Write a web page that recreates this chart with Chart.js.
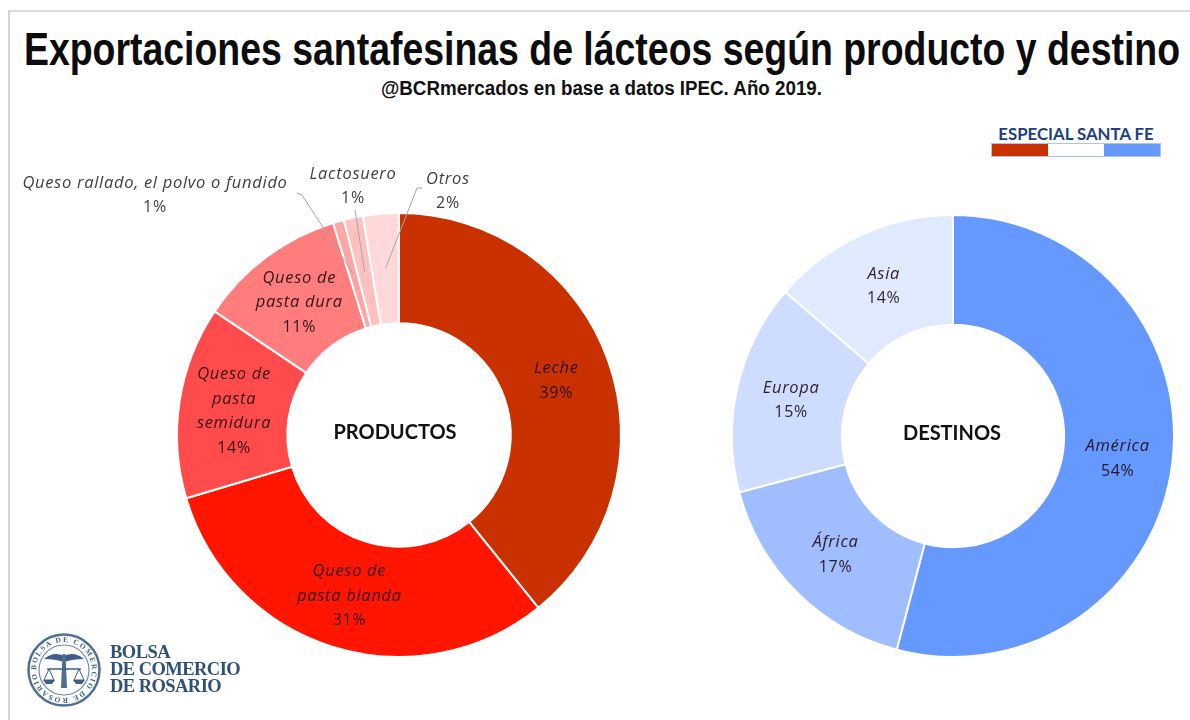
<!DOCTYPE html>
<html lang="es">

<head>
    <meta charset="UTF-8">
    <title>Exportaciones santafesinas de lácteos</title>
    <script src="https://cdn.jsdelivr.net/npm/chart.js@4.5.0/dist/chart.umd.min.js"></script>
    <style>
        html, body { margin: 0; padding: 0; background: #fff; }
        body { position: relative; width: 1190px; height: 720px; overflow: hidden; }
        .frame-top { position: absolute; left: 8px; top: 10px; width: 1182px; height: 2px; background: #dcdcdc; }
        .frame-left { position: absolute; left: 8px; top: 10px; width: 2px; height: 710px; background: #d4d4d4; }
        canvas { position: absolute; }
        #chartProductos { left: 0; top: 150px; }
        #chartDestinos { left: 716px; top: 151px; }
        h1 {
            position: absolute; left: 24px; top: 22px; margin: 0; color: #0c0c0c; transform-origin: left center;
            font: bold 46px "Liberation Sans", sans-serif; white-space: nowrap;
        }
        .subtitulo {
            position: absolute; left: 381px; top: 77px; color: #111; transform-origin: left center;
            font: bold 20px "Liberation Sans", sans-serif; white-space: nowrap;
        }
        .especial {
            position: absolute; left: 992px; top: 123px; width: 168px; text-align: center; color: #203f7c;
            font: bold 16.8px Lato, sans-serif; white-space: nowrap;
        }
        .franja { position: absolute; left: 991px; top: 143px; width: 168px; height: 12px; display: flex; border: 1px solid #b9c3d6; }
        .franja span { flex: 1; }
        .logo { position: absolute; left: 26px; top: 632px; }
        .logo-texto {
            position: absolute; left: 110px; top: 644px; color: #2f5078; letter-spacing: -0.55px;
            font: bold 18.5px/17px "Liberation Serif", serif; white-space: nowrap;
        }
    </style>
</head>

<body>
    <div class="frame-top"></div>
    <div class="frame-left"></div>

    <h1 id="titulo">Exportaciones santafesinas de lácteos según producto y destino</h1>
    <div class="subtitulo" id="subtitulo">@BCRmercados en base a datos IPEC. Año 2019.</div>

    <div class="especial">ESPECIAL SANTA FE</div>
    <div class="franja">
        <span style="background:#c93200"></span><span style="background:#fff"></span><span style="background:#6699ff"></span>
    </div>

    <canvas id="chartProductos" width="798" height="570"></canvas>
    <canvas id="chartDestinos" width="474" height="570"></canvas>

    <!-- logo -->
    <svg class="logo" width="76" height="76" viewBox="0 0 76 76">
        <defs><path id="anillo" d="M38 38 m-28 0 a28 28 0 1 1 56 0 a28 28 0 1 1 -56 0"></path></defs>
        <circle cx="38" cy="38" r="35.5" fill="#fff" stroke="#4f6f96" stroke-width="2.5"></circle>
        <circle cx="38" cy="38" r="25" fill="#fff" stroke="#6f8aac" stroke-width="1.2"></circle>
        <text font-size="7.4" font-family="Liberation Serif" font-weight="bold" fill="#3d5f88" textLength="172">
            <textPath href="#anillo">BOLSA DE COMERCIO DE ROSARIO</textPath>
        </text>
        <path d="M18 27 Q28 19 38 24 Q48 19 58 27 Q47 27 38 30 Q29 27 18 27Z" fill="#3d5f88"></path>
        <path d="M36.5 22 h3 L41 56 h-6Z" fill="#4f6f96"></path>
        <path d="M21 37 H55" stroke="#3d5f88" stroke-width="1.4"></path>
        <path d="M23 37 L18 48 H28Z M53 37 L48 48 H58Z" fill="none" stroke="#3d5f88" stroke-width="1"></path>
        <path d="M17 48 H29 L26 52 H20Z M47 48 H59 L56 52 H50Z" fill="#3d5f88"></path>
    </svg>
    <div class="logo-texto">BOLSA<br>DE COMERCIO<br>DE ROSARIO</div>

    <script>
        const productos = [['Leche'], ['Queso de', 'pasta blanda'], ['Queso de', 'pasta', 'semidura'], ['Queso de', 'pasta dura'],
            ['Queso rallado, el polvo o fundido'], ['Lactosuero'], ['Otros']];
        const productosValores = [39.2, 31.2, 14.0, 10.8, 0.8, 1.4, 2.6];
        const productosEtiquetas = ['39%', '31%', '14%', '11%', '1%', '1%', '2%'];
        const productosColores = ['#c93200', '#ff1500', '#ff4b4b', '#ff7d7d', '#ffa5a5', '#ffc0c0', '#ffd9d9'];

        const destinos = [['América'], ['África'], ['Europa'], ['Asia']];
        const destinosValores = [54.1, 16.8, 15.4, 13.7];
        const destinosEtiquetas = ['54%', '17%', '15%', '14%'];
        const destinosColores = ['#6699ff', '#a0beff', '#cddcff', '#e0eaff'];

        // etiquetas fuera del anillo: centro del texto y quiebre de la linea guia (en px del canvas)
        const productosFuera = {
            4: { x: 155, y: 33, guia: [[297, 43], [302, 45]] },
            5: { x: 353, y: 24, guia: [[355, 60]] },
            6: { x: 448, y: 29, guia: [[422, 38], [417, 38]] }
        };

        const FUENTE_ITALICA = 'italic 16.5px "Open Sans", sans-serif';
        const FUENTE_NORMAL = '16px "Open Sans", sans-serif';
        const ALTO_LINEA = 24.5;

        // ajusta el ancho del texto como si fuera una fuente condensada
        function ajustarAncho(id, ancho) {
            const el = document.getElementById(id);
            el.style.transform = 'scaleX(' + ancho / el.getBoundingClientRect().width + ')';
        }
        ajustarAncho('titulo', 1156);
        ajustarAncho('subtitulo', 441);

        const etiquetasPlugin = {
            id: 'etiquetas',
            afterDraw(chart, args, opts) {
                const ctx = chart.ctx;
                const arcos = chart.getDatasetMeta(0).data;
                ctx.save();
                ctx.textAlign = 'center';
                ctx.textBaseline = 'middle';
                ctx.letterSpacing = '0.7px';

                arcos.forEach((arco, i) => {
                    const lineas = chart.data.labels[i];
                    const centro = arco.getCenterPoint();
                    const fuera = opts.fuera && opts.fuera[i];
                    const x = fuera ? fuera.x : centro.x;
                    const y = fuera ? fuera.y : centro.y - lineas.length * ALTO_LINEA / 2 + 1.5;

                    if (fuera) {
                        ctx.beginPath();
                        fuera.guia.forEach((p, n) => n === 0 ? ctx.moveTo(p[0], p[1]) : ctx.lineTo(p[0], p[1]));
                        ctx.lineTo(centro.x, centro.y);
                        ctx.strokeStyle = '#a6a6a6';
                        ctx.lineWidth = 1;
                        ctx.stroke();
                    }

                    ctx.fillStyle = fuera ? '#404040' : 'rgba(30,10,10,0.9)';
                    ctx.font = FUENTE_ITALICA;
                    lineas.forEach((texto, n) => ctx.fillText(texto, x, y + n * ALTO_LINEA));
                    ctx.font = FUENTE_NORMAL;
                    ctx.fillText(opts.porcentajes[i], x, y + lineas.length * ALTO_LINEA);
                });

                // texto central del anillo
                ctx.letterSpacing = '0px';
                ctx.fillStyle = '#111';
                ctx.font = 'bold 20px Lato, sans-serif';
                const c = arcos[0];
                ctx.fillText(opts.centro, c.x + opts.centroDx, c.y - 2);
                ctx.restore();
            }
        };

        function crearAnillo(id, etiquetas, valores, colores, radio, hueco, opcionesEtiquetas) {
            return new Chart(document.getElementById(id), {
                type: 'doughnut',
                data: {
                    labels: etiquetas,
                    datasets: [{ data: valores, backgroundColor: colores, borderColor: '#fff', borderWidth: 2, radius: radio, cutout: hueco }]
                },
                options: {
                    responsive: false,
                    animation: false,
                    plugins: {
                        legend: { display: false },
                        tooltip: { enabled: false },
                        etiquetas: opcionesEtiquetas
                    }
                },
                plugins: [etiquetasPlugin]
            });
        }

        crearAnillo('chartProductos', productos, productosValores, productosColores, 222, '50.3%', {
            porcentajes: productosEtiquetas, fuera: productosFuera, centro: 'PRODUCTOS', centroDx: -4
        });
        crearAnillo('chartDestinos', destinos, destinosValores, destinosColores, 221, '50.3%', {
            porcentajes: destinosEtiquetas, centro: 'DESTINOS', centroDx: -1
        });
    </script>
</body>

</html>
